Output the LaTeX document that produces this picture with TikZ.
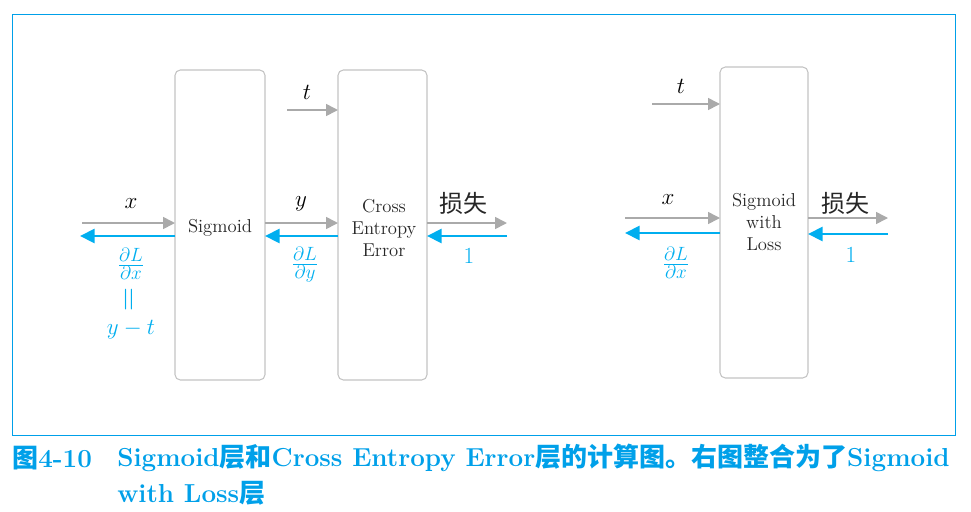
\documentclass[tikz,border=0pt]{standalone}
\usepackage{fontspec}
\usepackage{amsmath}
\usepackage{graphicx}
\usetikzlibrary{arrows.meta}
\newfontfamily\cjk{Noto Sans CJK SC}
\definecolor{lblue}{RGB}{0,174,239}
\definecolor{agray}{RGB}{170,170,170}
\definecolor{bgray}{RGB}{195,195,195}
\definecolor{capblue}{RGB}{0,160,233}
\tikzset{
  layerbox/.style={draw=bgray, line width=0.8pt, rounded corners=4pt},
  fwd/.style={draw=agray, line width=1.2pt, -{Triangle[length=9pt,width=9pt]}},
  bwd/.style={draw=lblue, line width=2.2pt, -{Triangle[length=11pt,width=10.5pt]}},
  lbl/.style={font=\fontsize{16}{18}\selectfont},
  blbl/.style={text=lblue, font=\fontsize{16}{18}\selectfont},
  frac/.style={text=lblue, font=\fontsize{19}{20}\selectfont},
  losslbl/.style={text=black!85, font=\cjk\fontsize{18}{20}\selectfont},
  boxtext/.style={align=center, font=\fontsize{14}{16.3}\selectfont, text=black!85},
  captext/.style={anchor=west, inner sep=0pt, text=capblue, font=\bfseries\fontsize{19.5}{22}\selectfont},
}
\begin{document}
\begin{tikzpicture}[x=0.75pt,y=-0.75pt]
\useasboundingbox (0,0) rectangle (971,511);
\draw[draw=capblue, line width=0.6pt] (12,14) rectangle (955,435);

% boxes
\draw[layerbox] (175,70) rectangle (265,380);
\node[boxtext] (sig) at (220,228) {Sigmoid};
\draw[layerbox] (338,70) rectangle (427,380);
\node[boxtext] (ce) at (384,228) {Cross\\Entropy\\Error};
\draw[layerbox] (720,67) rectangle (808,378);
\node[boxtext] (swl) at (764,222) {Sigmoid\\with\\Loss};

% coordinates
\coordinate (a1) at (82,223);  \coordinate (a2) at (175,223);
\coordinate (b1) at (175,236); \coordinate (b2) at (80,236);
\coordinate (c1) at (265,223); \coordinate (c2) at (338,223);
\coordinate (d1) at (338,236); \coordinate (d2) at (265,236);
\coordinate (e1) at (287,110); \coordinate (e2) at (338,110);
\coordinate (f1) at (427,223); \coordinate (f2) at (507,223);
\coordinate (g1) at (507,236); \coordinate (g2) at (427,236);

\coordinate (h1) at (652,104); \coordinate (h2) at (720,104);
\coordinate (i1) at (625,218); \coordinate (i2) at (720,218);
\coordinate (j1) at (720,233); \coordinate (j2) at (625,233);
\coordinate (k1) at (808,218); \coordinate (k2) at (888,218);
\coordinate (l1) at (888,234); \coordinate (l2) at (808,234);

\draw[fwd] (a1) -- (a2);
\draw[bwd] (b1) -- (b2);
\draw[fwd] (c1) -- (c2);
\draw[bwd] (d1) -- (d2);
\draw[fwd] (e1) -- (e2);
\draw[fwd] (f1) -- (f2);
\draw[bwd] (g1) -- (g2);
\draw[fwd] (h1) -- (h2);
\draw[fwd] (i1) -- (i2);
\draw[bwd] (j1) -- (j2);
\draw[fwd] (k1) -- (k2);
\draw[bwd] (l1) -- (l2);

% labels
\node[lbl] (lx) at (131,204) {$x$};
\node[frac] (ldx) at (131,264) {$\frac{\partial L}{\partial x}$};
\node[blbl, font=\fontsize{24}{24}\selectfont] (leq) at (131,300) {\rotatebox{90}{$=$}};
\node[blbl] (lyt) at (131,330) {$y-t$};
\node[lbl] (ly) at (301,204) {$y$};
\node[frac] (ldy) at (305,265) {$\frac{\partial L}{\partial y}$};
\node[lbl] (lt) at (307,92) {$t$};
\node[losslbl] (loss1) at (463,203) {损失};
\node[blbl, font=\fontsize{18}{20}\selectfont] (one1) at (469,256) {$1$};

\node[lbl] (rt) at (681,86) {$t$};
\node[lbl] (rx) at (668,200) {$x$};
\node[frac] (rdx) at (676,263) {$\frac{\partial L}{\partial x}$};
\node[losslbl] (loss2) at (845,203) {损失};
\node[blbl, font=\fontsize{18}{20}\selectfont] (one2) at (851,255) {$1$};

% caption
\node[captext] (cap0) at (12,458) {{\cjk\bfseries 图}4-10};
\node[captext] (cap1) at (117,458) {Sigmoid{\cjk\bfseries 层和}Cross Entropy Error{\cjk\bfseries 层的计算图。右图整合为了}Sigmoid};
\node[captext] (cap2) at (117,493) {with Loss{\cjk\bfseries 层}};
\end{tikzpicture}
\end{document}
